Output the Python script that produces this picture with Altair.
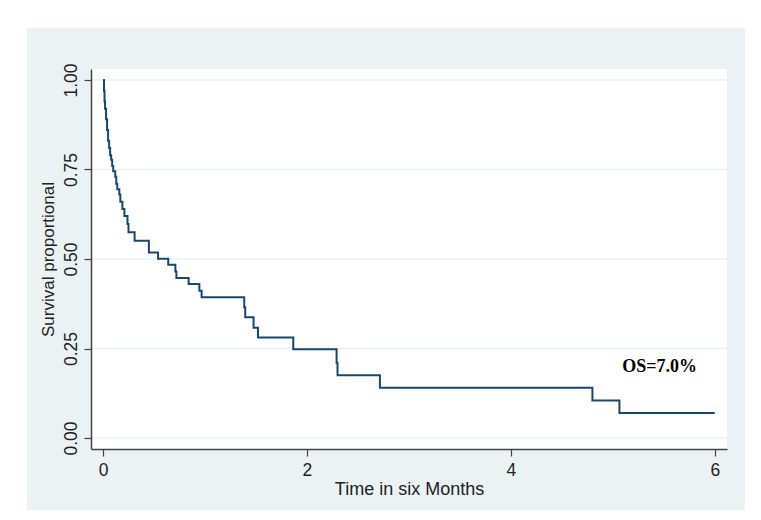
import altair as alt
import pandas as pd

# Kaplan-Meier step values
times = [0.0, 0.01, 0.015, 0.02, 0.03, 0.04, 0.05, 0.06, 0.07, 0.08, 0.09,
         0.10, 0.12, 0.13, 0.14, 0.16, 0.17, 0.19, 0.21, 0.24, 0.25, 0.31,
         0.45, 0.54, 0.64, 0.71, 0.72, 0.84, 0.945, 0.967, 1.385, 1.395,
         1.477, 1.52, 1.866, 2.291, 2.30, 2.716, 4.80, 5.065, 6.0]
survival = [1.0, 0.97, 0.94, 0.92, 0.89, 0.86, 0.83, 0.81, 0.79, 0.777, 0.76,
            0.745, 0.73, 0.71, 0.695, 0.68, 0.66, 0.64, 0.62, 0.598, 0.575, 0.551,
            0.518, 0.501, 0.484, 0.465, 0.447, 0.430, 0.411, 0.393, 0.365, 0.337,
            0.308, 0.281, 0.248, 0.210, 0.175, 0.1405, 0.105, 0.070, 0.070]

x_ticks = [0, 2, 4, 6]
y_ticks = [0.0, 0.25, 0.5, 0.75, 1.0]

note_text = ["OS=7.0%"]
note_x = [5.46]
note_y = [0.198]

PANEL = "#eaf2f3"
NAVY = "#1a476f"
INK = "#222222"
W, H = 636, 380

km = pd.DataFrame({"time": times, "surv": survival})
note = pd.DataFrame({"label": note_text, "x": note_x, "y": note_y})
grid = pd.DataFrame({"g": y_ticks})

x_scale = alt.Scale(domain=[-0.1177, 6.12], nice=False, zero=False)
y_scale = alt.Scale(domain=[-0.0307, 1.0307], nice=False, zero=False)

axis_style = dict(
    zindex=1, grid=False,
    domainColor="#444444", domainWidth=1.5,
    tickColor="#444444", tickWidth=1.2, tickSize=7,
    labelFont="Liberation Sans", labelFontSize=17.5, labelColor=INK,
    titleFont="Liberation Sans", titleFontWeight="normal", titleColor=INK,
)

# graph region (light blue-grey) and white plot region behind everything
panel = alt.Chart(pd.DataFrame({"a": [0]})).mark_rect(color=PANEL).encode(
    x=alt.value(-64), x2=alt.value(654), y=alt.value(-41), y2=alt.value(441)
)
plot_bg = alt.Chart(pd.DataFrame({"a": [0]})).mark_rect(color="white").encode(
    x=alt.value(0), x2=alt.value(W), y=alt.value(0), y2=alt.value(H)
)

gridlines = alt.Chart(grid).mark_rule(color=PANEL, strokeWidth=1.5).encode(
    y=alt.Y("g:Q", scale=y_scale)
)

curve = alt.Chart(km).mark_line(
    interpolate="step-after", color=NAVY, strokeWidth=2
).encode(
    x=alt.X("time:Q", scale=x_scale, title="Time in six Months",
            axis=alt.Axis(values=x_ticks, format="d", labelPadding=5,
                          titleFontSize=18, titlePadding=2, **axis_style)),
    y=alt.Y("surv:Q", scale=y_scale, title="Survival proportional",
            axis=alt.Axis(values=y_ticks, format=".2f",
                          labelAngle=270, labelAlign="center",
                          labelBaseline="bottom", labelPadding=4,
                          titleFontSize=17, titlePadding=5, **axis_style)),
)

label = alt.Chart(note).mark_text(
    font="Liberation Serif", fontWeight="bold", fontSize=18, color="black"
).encode(x=alt.X("x:Q", scale=x_scale), y=alt.Y("y:Q", scale=y_scale), text="label:N")

chart = alt.layer(panel, plot_bg, gridlines, curve, label).properties(
    width=W, height=H,
    autosize=alt.AutoSizeParams(type="none"),
    padding={"left": 83, "top": 61, "right": 26, "bottom": 62},
    background="white",
).configure_view(
    stroke=None
)

chart.save("out.html", embed_options={"renderer": "svg", "actions": False})
